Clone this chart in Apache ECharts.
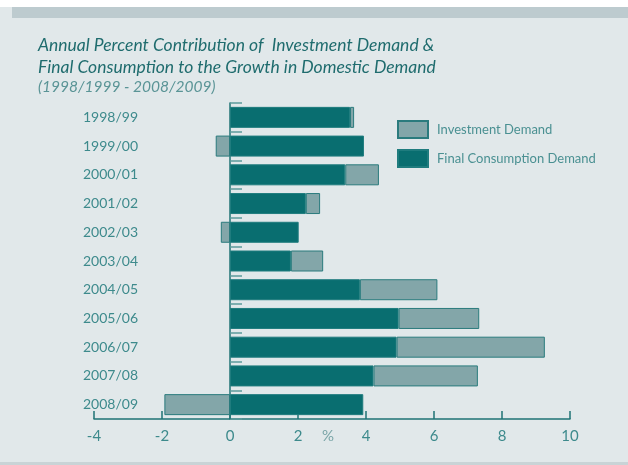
<!DOCTYPE html>
<html><head><meta charset="utf-8">
<script src="https://cdn.jsdelivr.net/npm/echarts@6/dist/echarts.min.js"></script>
<style>html,body{margin:0;padding:0;background:#fff}#c{width:628px;height:465px}</style>
</head><body><div id="c"></div>
<script>
const categories = ['1998/99','1999/00','2000/01','2001/02','2002/03','2003/04','2004/05','2005/06','2006/07','2007/08','2008/09'];
const consumption = [3.53, 3.94, 3.39, 2.23, 2.02, 1.79, 3.82, 4.96, 4.90, 4.22, 3.92];
const investment  = [0.12, -0.42, 0.99, 0.42, -0.27, 0.95, 2.28, 2.37, 4.36, 3.07, -1.93];
const xTicks = [-4, -2, 0, 2, 4, 6, 8, 10];

const chart = echarts.init(document.getElementById('c'), null, {renderer:'canvas'});
const font = 'Lato, "Open Sans", sans-serif';
chart.setOption({
  backgroundColor: '#e1e8ea',
  animation: false,
  textStyle: {fontFamily: font},
  graphic: [
    {type:'rect', shape:{x:0,y:0,width:628,height:7}, style:{fill:'#ffffff'}, silent:true},
    {type:'rect', shape:{x:12,y:7,width:616,height:11}, style:{fill:'#bdcbcf'}, silent:true},
    {type:'rect', shape:{x:0,y:462,width:628,height:3}, style:{fill:'#c9d3d6'}, silent:true},
    {type:'text', left:38, top:34, style:{text:'Annual Percent Contribution of  Investment Demand &\nFinal Consumption to the Growth in Domestic Demand', font:'italic 17.5px ' + font, fill:'#1f6c6e', lineHeight:22}},
    {type:'text', left:38, top:79, style:{text:'(1998/1999 - 2008/2009)', font:'italic 15.5px ' + font, fill:'#5a9496'}}
  ],
  legend: {
    data: ['Investment Demand', 'Final Consumption Demand'],
    orient: 'vertical', left: 397, top: 120, padding: 0,
    itemWidth: 30, itemHeight: 17, itemGap: 10,
    textStyle: {color:'#4a9092', fontSize:13, fontFamily: font, padding:[0,0,0,4]},
    icon: 'rect'
  },
  grid: {left: 94, right: 58, top: 103, bottom: 46, containLabel: false},
  xAxis: {
    type: 'value', min: -4, max: 10, interval: 2,
    name: '%', nameLocation: 'middle', nameGap: 10, nameMoveOverlap: false,
    nameTextStyle: {color:'#7aa5a7', fontSize:15, fontFamily: font, padding:[0,8,0,0]},
    axisLine: {show:true, onZero:false, lineStyle:{color:'#1f7375', width:1.5}},
    axisTick: {show:true, inside:true, length:8, lineStyle:{color:'#1f7375', width:1.5}},
    axisLabel: {color:'#3d8a8c', fontSize:15, margin:10, fontFamily: font,
      formatter: v => xTicks.includes(v) ? String(v) : ''},
    splitLine: {show:false}
  },
  yAxis: [
    {
      type: 'category', data: categories, inverse: true,
      axisLine: {show:true, onZero:true, lineStyle:{color:'#1f7375', width:1.5}},
      axisTick: {show:true, inside:true, length:12, alignWithLabel:false, lineStyle:{color:'#5c9a9c', width:1.5}},
      axisLabel: {show:false},
      splitLine: {show:false}
    },
    {
      type: 'category', data: categories, inverse: true, position:'left', offset: -44,
      axisLine: {show:false}, axisTick: {show:false},
      axisLabel: {show:true, color:'#3d8a8c', fontSize:14, margin:0, fontFamily: font}
    }
  ],
  series: [
    {name:'Final Consumption Demand', type:'bar', stack:'s', yAxisIndex:0, data: consumption, barWidth: 21,
      itemStyle:{color:'#096e70', borderColor:'#1f7c7e', borderWidth:1}},
    {name:'Investment Demand', type:'bar', stack:'s', yAxisIndex:0, data: investment, barWidth: 21,
      itemStyle:{color:'#83a6a9', borderColor:'#2a7b7d', borderWidth:1}}
  ]
});
</script></body></html>
